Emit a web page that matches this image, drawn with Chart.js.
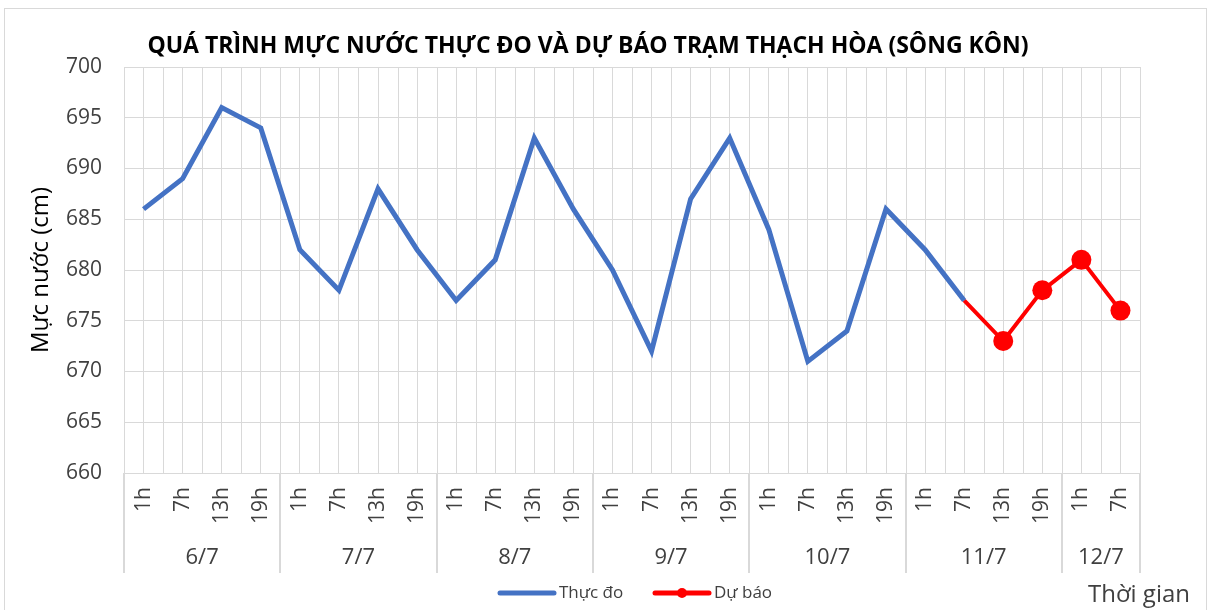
<!DOCTYPE html>
<html lang="vi">
<head>
  <meta charset="UTF-8" />
  <title>Mực nước Thạch Hòa</title>
  <script src="https://cdn.jsdelivr.net/npm/chart.js"></script>
  <style>
    body { margin: 0; background: #fff; }
    #wrap { position: absolute; left: 4px; top: 8px; width: 1203px; height: 604px; border: 1px solid #d9d9d9; box-sizing: border-box; }
  </style>
</head>
<body>
  <div id="wrap"><canvas id="chart"></canvas></div>

  <script>
    // so lieu doc tu hinh
    const hours = ['1h','7h','13h','19h', '1h','7h','13h','19h', '1h','7h','13h','19h',
                   '1h','7h','13h','19h', '1h','7h','13h','19h', '1h','7h','13h','19h', '1h','7h'];
    const days = ['6/7', '7/7', '8/7', '9/7', '10/7', '11/7', '12/7'];
    const dayCounts = [4, 4, 4, 4, 4, 4, 2];
    const thucDo = [686, 689, 696, 694, 682, 678, 688, 682, 677, 681, 693, 686, 680,
                    672, 687, 693, 684, 671, 674, 686, 682, 677, null, null, null, null];
    const duBao = [null, null, null, null, null, null, null, null, null, null, null,
                   null, null, null, null, null, null, null, null, null, null, 677, 673, 678, 681, 676];
    const TITLE = 'QUÁ TRÌNH MỰC NƯỚC THỰC ĐO VÀ DỰ BÁO TRẠM THẠCH HÒA (SÔNG KÔN)';

    const FONT = "'Open Sans', sans-serif";
    const GRID = '#d9d9d9';
    const AXIS_H = 102;

    // ve tieu de, nhom ngay, chu thich bang tay
    const groupsPlugin = {
      id: 'groups',
      beforeDatasetsDraw(chart) {
        const ctx = chart.ctx, x = chart.scales.x, area = chart.chartArea;
        const w = (x.right - x.left) / hours.length;
        ctx.save();
        ctx.strokeStyle = GRID; ctx.lineWidth = 1;
        for (let i = 0; i <= hours.length; i++) {
          const px = Math.round(x.left + i * w) + 0.5;
          ctx.beginPath(); ctx.moveTo(px, area.top); ctx.lineTo(px, area.bottom); ctx.stroke();
        }
        ctx.restore();
      },
      afterDraw(chart) {
        const ctx = chart.ctx, x = chart.scales.x, area = chart.chartArea;
        const w = (x.right - x.left) / hours.length;
        ctx.save();

        // tieu de
        ctx.fillStyle = '#000';
        ctx.font = 'bold 23px ' + FONT;
        ctx.textAlign = 'center'; ctx.textBaseline = 'middle';
        ctx.fillText(TITLE, 583, 37);

        // nhom ngay
        ctx.strokeStyle = GRID; ctx.lineWidth = 2;
        ctx.fillStyle = '#404040';
        ctx.font = '22px ' + FONT;
        let idx = 0;
        const drawSep = (i) => {
          const px = Math.round(x.left + i * w);
          ctx.beginPath(); ctx.moveTo(px, area.bottom); ctx.lineTo(px, area.bottom + AXIS_H - 2); ctx.stroke();
        };
        drawSep(0);
        days.forEach((d, k) => {
          const start = idx;
          idx += dayCounts[k];
          drawSep(idx);
          ctx.fillText(d, x.left + (start + idx) / 2 * w, area.bottom + 85);
        });

        // chu thich
        const ly = area.bottom + 120;
        const items = [
          { ds: chart.data.datasets[0], x0: 495, dot: false },
          { ds: chart.data.datasets[1], x0: 650, dot: true }
        ];
        ctx.font = '17px ' + FONT;
        ctx.textAlign = 'left';
        items.forEach(it => {
          ctx.strokeStyle = it.ds.borderColor;
          ctx.lineWidth = 5; ctx.lineCap = 'round';
          ctx.beginPath(); ctx.moveTo(it.x0, ly); ctx.lineTo(it.x0 + 54, ly); ctx.stroke();
          if (it.dot) {
            ctx.fillStyle = it.ds.borderColor;
            ctx.beginPath(); ctx.arc(it.x0 + 27, ly, 5, 0, Math.PI * 2); ctx.fill();
          }
          ctx.fillStyle = '#404040';
          ctx.fillText(it.ds.label, it.x0 + 59, ly);
        });

        ctx.font = '24px ' + FONT;
        ctx.textAlign = 'right';
        ctx.fillStyle = '#404040';
        ctx.fillText('Thời gian', 1185, ly + 2);
        ctx.restore();
      }
    };

    new Chart(document.getElementById('chart'), {
      type: 'line',
      data: {
        labels: hours,
        datasets: [
          {
            label: 'Thực đo',
            data: thucDo,
            borderColor: '#4472C4',
            backgroundColor: '#4472C4',
            borderWidth: 5,
            pointRadius: 0,
            tension: 0
          },
          {
            label: 'Dự báo',
            data: duBao,
            borderColor: '#FF0000',
            backgroundColor: '#FF0000',
            borderWidth: 4,
            pointRadius: c => thucDo[c.dataIndex] != null ? 0 : 10,
            pointHoverRadius: 10,
            pointBorderWidth: 0,
            tension: 0
          }
        ]
      },
      options: {
        responsive: true,
        maintainAspectRatio: false,
        animation: false,
        layout: { padding: { top: 58, left: 22, right: 66, bottom: 36 } },
        plugins: {
          legend: { display: false },
          tooltip: { enabled: false }
        },
        scales: {
          x: {
            offset: true,
            grid: { color: GRID, offset: false, drawTicks: false },
            border: { display: false },
            ticks: {
              autoSkip: false, minRotation: 90, maxRotation: 90,
              color: '#404040', padding: 14,
              font: { family: FONT, size: 21 }
            },
            afterFit: s => { s.height = AXIS_H; }
          },
          y: {
            min: 660, max: 700,
            ticks: { stepSize: 5, color: '#404040', padding: 22, font: { family: FONT, size: 21 } },
            grid: { color: GRID, drawTicks: false },
            border: { display: false },
            title: {
              display: true, text: 'Mực nước (cm)', color: '#000',
              font: { family: FONT, size: 24 }, padding: { top: 0, bottom: 0 }
            },
            afterFit: s => { s.width = 97; }
          }
        }
      },
      plugins: [groupsPlugin]
    });
  </script>
</body>
</html>
